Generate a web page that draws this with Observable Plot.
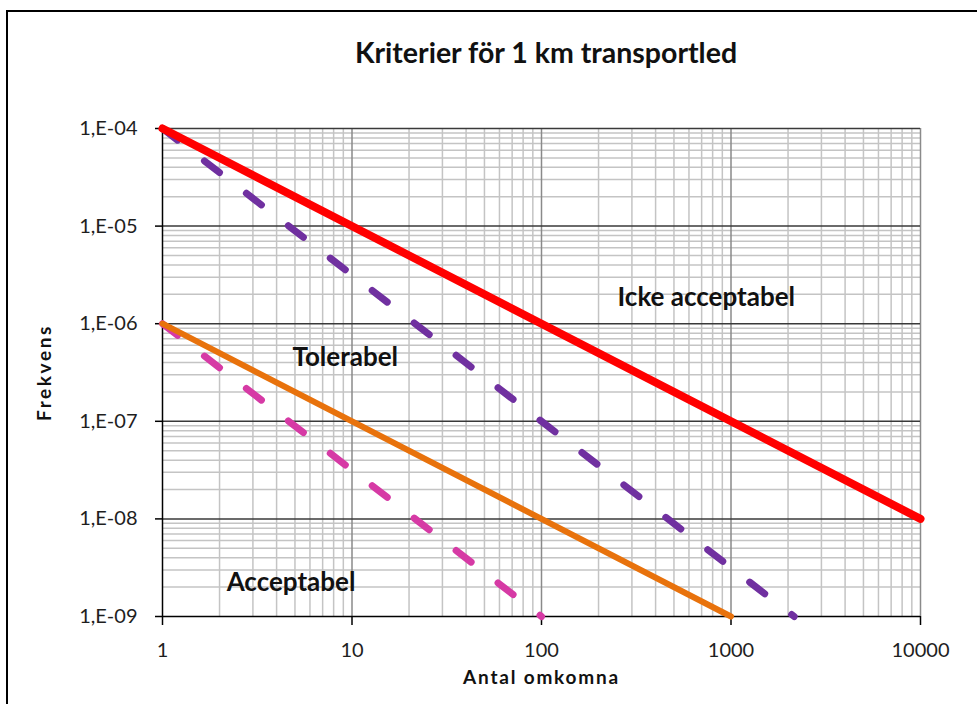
<!DOCTYPE html>
<html>
<head>
<meta charset="utf-8">
<script src="https://cdn.jsdelivr.net/npm/d3@7"></script>
<script src="https://cdn.jsdelivr.net/npm/@observablehq/plot@0.6"></script>
<style>
  html, body { margin: 0; padding: 0; background: #fff; }
  #wrap { position: relative; width: 977px; height: 704px; overflow: hidden; }
  #frame { position: absolute; left: 6px; top: 10px; width: 1000px; height: 800px;
           border-left: 2px solid #000; border-top: 2px solid #000; }
  #title { position: absolute; left: 0; width: 1092px; top: 35px; text-align: center;
           font: bold 28.5px Lato, sans-serif; color: #111; }
  #chart { position: absolute; left: 0; top: 0; }
</style>
</head>
<body>
<div id="wrap">
  <div id="frame"></div>
  <div id="chart"></div>
  <div id="title">Kriterier för 1 km transportled</div>
</div>
<script>
// Axis ticks and labels
const xTicks = [1, 10, 100, 1000, 10000];
const xTickLabels = ["1", "10", "100", "1000", "10000"];
const yTicks = [1e-9, 1e-8, 1e-7, 1e-6, 1e-5, 1e-4];
const yTickLabels = ["1,E-09", "1,E-08", "1,E-07", "1,E-06", "1,E-05", "1,E-04"];

// Criterion lines (endpoints, straight lines in log-log)
const redX = [1, 10000];        const redY = [1e-4, 1e-8];
const orangeX = [1, 1000];      const orangeY = [1e-6, 1e-9];
const purpleX = [1, 2154];      const purpleY = [1e-4, 1e-9];
const pinkX = [1, 100];         const pinkY = [1e-6, 1e-9];

// Region labels
const regionNames = ["Icke acceptabel", "Tolerabel", "Acceptabel"];
const regionX = [252, 4.85, 2.18];
const regionY = [1.86e-6, 4.5e-7, 2.23e-9];

const toPts = (xs, ys) => xs.map((x, i) => ({x, y: ys[i]}));
const regions = regionNames.map((t, i) => ({t, x: regionX[i], y: regionY[i]}));

// minor grid positions (2..9 within each decade)
const xMinor = [], yMinor = [];
for (const d of [1, 10, 100, 1000]) for (let k = 2; k <= 9; k++) xMinor.push(k * d);
for (const d of [1e-9, 1e-8, 1e-7, 1e-6, 1e-5]) for (let k = 2; k <= 9; k++) yMinor.push(k * d);

const font = "Lato, sans-serif";
const dash = "19,34";

const plot = Plot.plot({
  width: 977,
  height: 704,
  marginLeft: 162,
  marginRight: 57,
  marginTop: 128,
  marginBottom: 88,
  style: {fontFamily: font, background: "transparent", overflow: "visible"},
  x: {type: "log", domain: [1, 10000]},
  y: {type: "log", domain: [1e-9, 1e-4]},
  marks: [
    Plot.ruleX(xMinor, {stroke: "#c4c4c4", strokeWidth: 1.5}),
    Plot.ruleY(yMinor, {stroke: "#c4c4c4", strokeWidth: 1.5}),
    Plot.ruleX(xTicks.slice(1), {stroke: "#8a8a8a", strokeWidth: 1.5}),
    Plot.ruleY(yTicks.slice(1), {stroke: "#3a3a3a", strokeWidth: 1.5}),
    Plot.ruleX([xTicks[0]], {stroke: "#000", strokeWidth: 1.5}),
    Plot.ruleY([yTicks[0]], {stroke: "#000", strokeWidth: 1.5}),
    Plot.axisX({ticks: xTicks, tickFormat: (d) => xTickLabels[xTicks.indexOf(d)], tickSize: 9,
      tickPadding: 17, fontSize: 20, fill: "#1e1e1e", stroke: "#000", strokeWidth: 1.5, label: null}),
    Plot.axisY({ticks: yTicks, tickFormat: (d) => yTickLabels[yTicks.indexOf(d)], tickSize: 7,
      tickPadding: 18, fontSize: 20, fill: "#1e1e1e", stroke: "#000", strokeWidth: 1.5, label: null}),
    Plot.line(toPts(pinkX, pinkY), {x: "x", y: "y", stroke: "#d63aa5", strokeWidth: 7,
      strokeDasharray: dash, strokeLinecap: "round"}),
    Plot.line(toPts(purpleX, purpleY), {x: "x", y: "y", stroke: "#7030a0", strokeWidth: 7,
      strokeDasharray: dash, strokeLinecap: "round"}),
    Plot.line(toPts(orangeX, orangeY), {x: "x", y: "y", stroke: "#e8720c", strokeWidth: 6}),
    Plot.line(toPts(redX, redY), {x: "x", y: "y", stroke: "#ff0000", strokeWidth: 8}),
    Plot.text(regions, {x: "x", y: "y", text: "t", textAnchor: "start", fontSize: 26,
      fontWeight: "bold", fill: "#111"}),
    Plot.text(["Antal omkomna"], {frameAnchor: "bottom", dy: 67, text: d => d, fontSize: 19,
      fontWeight: "bold", fill: "#111"}),
    Plot.text(["Frekvens"], {frameAnchor: "left", textAnchor: "middle", dx: -118, rotate: -90,
      text: d => d, fontSize: 19, fontWeight: "bold", fill: "#111"})
  ]
});
// wider tracking on the axis titles, as in the reference
d3.select(plot).selectAll("text").each(function () {
  const t = this.textContent;
  if (t === "Antal omkomna") this.setAttribute("letter-spacing", "1.8");
  if (t === "Frekvens") this.setAttribute("letter-spacing", "2.6");
});
document.getElementById("chart").appendChild(plot);
</script>
</body>
</html>
